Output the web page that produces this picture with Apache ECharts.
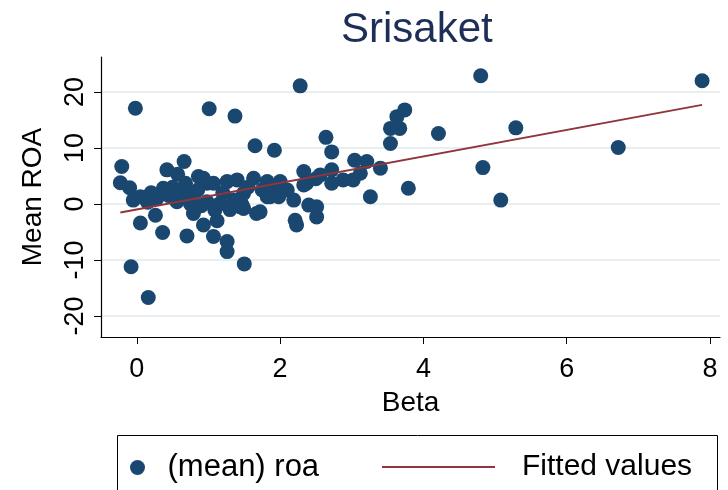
<!DOCTYPE html>
<html>
<head>
<meta charset="utf-8">
<script src="https://cdn.jsdelivr.net/npm/echarts@6/dist/echarts.min.js"></script>
<style>
  html, body { margin: 0; padding: 0; background: #fff; }
  #chart { width: 728px; height: 490px; }
</style>
</head>
<body>
<div id="chart"></div>
<script>
// Beta (x) and mean ROA (y)
var betaVals = [4.80, 7.89, 2.28, -0.02, 1.01, 1.37, -0.21, -0.08, 0.16, 0.36,
  0.70, 1.50, 1.65, 1.92, 0.42, 0.66, 0.57, -0.23, -0.10, 0.05,
  0.26, 1.67, 0.93, 1.07, 1.26, 1.26, 1.12, 1.47, 0.05, -0.05,
  0.37, 0.28, 0.56, 0.68, 0.86, 0.98, 1.26, 1.40, 1.63, 0.65,
  0.79, 0.98, 1.16, 1.44, 1.49, 1.82, 0.79, 1.09, 2.64, 2.72,
  3.04, 1.82, 2.00, 2.33, 2.56, 2.72, 2.72, 2.88, 1.86, 1.98,
  2.19, 2.37, 2.40, 2.51, 2.21, 2.23, 1.72, 3.74, 3.63, 3.54,
  3.67, 3.54, 3.21, 3.40, 3.02, 3.12, 3.26, 3.79, 5.29, 4.21,
  6.72, 4.83, 5.08, 2.51, 1.44, 2.33, 0.93, 1.07, 1.49, 1.35,
  0.45, 0.50, 0.15, 0.85, 1.20, 0.90, 1.55, 1.75, 2.10, 2.50,
  0.20, 0.75, 1.30, 1.90];
var roaVals = [22.9, 22.0, 21.1, 17.1, 17.0, 15.7, 6.7, -11.2, -16.7, -5.1,
  -5.7, -10.7, 10.4, 9.6, 6.1, 7.6, 5.3, 3.8, 2.9, -3.4,
  -2.0, -1.7, -3.75, -5.8, -6.7, -8.5, -3.0, -0.2, 1.3, 0.7,
  2.8, 1.0, 0.4, 3.7, 4.9, 3.7, 4.0, 4.3, 4.6, 1.6,
  1.9, 0.4, 0.1, 0.7, -0.8, 1.3, -1.7, -1.1, 11.9, 9.3,
  7.8, 4.0, 4.0, 5.8, 5.2, 6.1, 3.7, 4.3, 1.3, 1.3,
  0.7, 3.7, -0.2, -2.3, -2.9, -3.75, -1.4, 16.8, 15.6, 13.5,
  13.5, 10.8, 7.6, 6.4, 4.3, 5.5, 1.3, 2.8, 13.6, 12.6,
  10.1, 6.5, 0.7, -0.5, -0.5, 3.4, 4.6, 3.7, 1.9, 0.7,
  1.5, 3.0, 0.3, 2.5, 2.0, -0.3, 3.0, 2.5, 2.5, 4.5,
  2.0, 0.0, -1.0, 3.0];

// fitted line end points
var fitX = [-0.23, 7.89];
var fitY = [-1.5, 17.7];

var xTicks = [0, 2, 4, 6, 8];
var yTicks = [-20, -10, 0, 10, 20];

var FONT = "'Liberation Sans', Arial, Helvetica, sans-serif";

var pts = betaVals.map(function (b, i) { return [b, roaVals[i]]; });
var fitPts = fitX.map(function (b, i) { return [b, fitY[i]]; });

var myChart = echarts.init(document.getElementById('chart'));
var option = {
  backgroundColor: '#fff',
  animation: false,
  textStyle: { fontFamily: FONT },
  title: {
    text: 'Srisaket',
    left: 336,
    top: 4,
    textStyle: { color: '#1e2f57', fontSize: 42, fontWeight: 'normal', fontFamily: FONT }
  },
  grid: { left: 101, right: 8, top: 57, bottom: 153 },
  xAxis: {
    type: 'value',
    min: -0.5,
    max: 8.14,
    name: 'Beta',
    nameLocation: 'middle',
    nameGap: 52,
    nameTextStyle: { color: '#000', fontSize: 28, fontFamily: FONT },
    axisLine: { show: true, onZero: false, lineStyle: { color: '#000', width: 1.2 } },
    axisTick: { show: true, length: 7, customValues: xTicks, lineStyle: { color: '#000' } },
    axisLabel: { customValues: xTicks, color: '#000', fontSize: 27, margin: 19, fontFamily: FONT },
    splitLine: { show: false }
  },
  yAxis: {
    type: 'value',
    min: -23.75,
    max: 26.25,
    name: 'Mean ROA',
    nameLocation: 'middle',
    nameGap: 54,
    nameTextStyle: { color: '#000', fontSize: 28, fontFamily: FONT },
    axisLine: { show: true, onZero: false, lineStyle: { color: '#000', width: 1.2 } },
    axisTick: { show: true, length: 7, customValues: yTicks, lineStyle: { color: '#000' } },
    axisLabel: { customValues: yTicks, color: '#000', fontSize: 27, rotate: 90, margin: 12, fontFamily: FONT },
    splitLine: { show: true, lineStyle: { color: '#e8eff1', width: 2 } }
  },
  legend: [
    {
      data: ['(mean) roa'],
      left: 130,
      top: 452,
      padding: 0,
      itemWidth: 50,
      itemHeight: 15,
      textStyle: { color: '#000', fontSize: 31, fontFamily: FONT }
    },
    {
      data: [{ name: 'Fitted values', icon: 'rect' }],
      left: 382,
      top: 452,
      padding: 0,
      itemWidth: 113,
      itemHeight: 2,
      textStyle: { color: '#000', fontSize: 30, fontFamily: FONT, padding: [0, 0, 0, 22] }
    }
  ],
  graphic: [
    {
      type: 'rect',
      shape: { x: 117.5, y: 435.5, width: 600, height: 80 },
      style: { fill: null, stroke: '#000', lineWidth: 1 },
      silent: true
    }
  ],
  series: [
    {
      name: '(mean) roa',
      type: 'scatter',
      data: pts,
      symbol: 'circle',
      symbolSize: 15,
      symbolKeepAspect: true,
      itemStyle: { color: '#1a476f', opacity: 1 },
      z: 2
    },
    {
      name: 'Fitted values',
      type: 'line',
      data: fitPts,
      showSymbol: false,
      symbol: 'none',
      lineStyle: { color: '#90353b', width: 2 },
      itemStyle: { color: '#90353b' },
      z: 3
    }
  ]
};
option && myChart.setOption(option);
</script>
</body>
</html>
